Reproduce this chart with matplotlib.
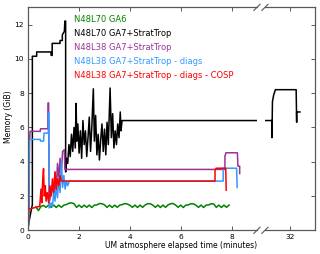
import numpy as np
import matplotlib
matplotlib.use("Agg")
import matplotlib.pyplot as plt

# memory use (GiB) against elapsed time (minutes)
labels = ["N48L70 GA6", "N48L70 GA7+StratTrop", "N48L38 GA7+StratTrop",
          "N48L38 GA7+StratTrop - diags", "N48L38 GA7+StratTrop - diags - COSP"]
colours = ["#008000", "black", "#993399", "#3399ff", "red"]

green_t = np.round(np.arange(3, 80) * 0.1, 1)
green_mem = [1.36, 1.15, 1.40, 1.45, 1.34, 1.47, 1.34, 1.47, 1.33, 1.47,
             1.34, 1.47, 1.50, 1.58, 1.60, 1.55, 1.34, 1.47, 1.33, 1.47,
             1.34, 1.47, 1.33, 1.47, 1.48, 1.56, 1.55, 1.48, 1.34, 1.47,
             1.33, 1.47, 1.34, 1.47, 1.50, 1.56, 1.53, 1.46, 1.34, 1.47,
             1.33, 1.47, 1.34, 1.48, 1.55, 1.55, 1.47, 1.34, 1.47, 1.33,
             1.47, 1.34, 1.48, 1.55, 1.56, 1.47, 1.34, 1.47, 1.33, 1.47,
             1.48, 1.55, 1.54, 1.46, 1.34, 1.47, 1.33, 1.47, 1.48, 1.55,
             1.53, 1.34, 1.47, 1.33, 1.47, 1.34, 1.47]

black_t = [0.0, 0.16, 0.16, 0.33, 0.33, 0.89, 0.90, 0.94, 0.94, 1.25, 1.25, 1.34, 1.34,
           1.42, 1.44, 1.47, 1.47, 1.50, 1.55, 1.60, 1.65, 1.70, 1.75, 1.80, 1.85,
           1.88, 1.91, 1.95, 2.00, 2.05, 2.10, 2.15, 2.20, 2.25, 2.30, 2.35, 2.40,
           2.45, 2.50, 2.56, 2.60, 2.65, 2.70, 2.75, 2.80, 2.85, 2.90, 2.95, 3.00,
           3.05, 3.10, 3.15, 3.22, 3.27, 3.32, 3.37, 3.42, 3.47, 3.52, 3.57, 3.62,
           3.65, 3.69, 31.28, 31.28, 31.30, 31.35, 31.42, 32.25, 32.27, 32.27, 32.40]
black_mem = [0.3, 1.5, 10.15, 10.15, 10.4, 10.4, 10.2, 10.2, 10.9, 10.9, 11.07, 11.07, 11.4,
             11.6, 12.2, 12.2, 3.4, 4.2, 3.9, 5.0, 4.3, 5.6, 4.6, 6.0, 4.8,
             7.4, 5.2, 6.2, 4.5, 5.8, 4.2, 6.4, 5.0, 5.8, 4.3, 5.4, 6.6,
             4.6, 6.0, 8.25, 5.2, 6.7, 4.4, 5.6, 4.1, 5.3, 6.2, 4.6, 5.9,
             4.4, 6.3, 5.0, 8.3, 5.4, 6.8, 4.8, 5.8, 5.0, 6.2, 5.4, 6.9,
             5.8, 6.4, 6.4, 5.4, 7.5, 7.9, 8.2, 8.2, 6.3, 6.9, 6.9]

purple_t = [0.03, 0.05, 0.07, 0.47, 0.48, 0.77, 0.78, 0.80, 0.82, 0.85, 0.95, 1.00,
            1.05, 1.10, 1.15, 1.20, 1.25, 1.30, 1.35, 1.42, 1.44, 7.74, 7.74, 7.78,
            8.23, 8.25, 8.32, 8.32]
purple_mem = [1.2, 5.2, 5.77, 5.77, 5.92, 5.92, 7.43, 7.43, 1.6, 1.8, 2.6, 2.0,
              3.4, 2.4, 3.9, 3.0, 4.2, 3.3, 4.6, 4.7, 3.55, 3.55, 4.33, 4.52,
              4.52, 3.74, 3.74, 3.31]

blue_t = [0.02, 0.04, 0.47, 0.48, 0.60, 0.62, 0.79, 0.79, 0.81, 0.82, 0.90, 0.95,
          1.00, 1.05, 1.10, 1.15, 1.20, 1.25, 1.30, 1.35, 1.40, 1.45, 1.50, 1.55,
          1.62, 1.65, 7.67, 7.67, 8.20, 8.22]
blue_mem = [0.3, 5.3, 5.3, 5.2, 5.2, 5.67, 5.67, 6.84, 6.84, 1.3, 1.6, 1.4,
            2.2, 1.7, 2.6, 1.9, 3.1, 2.2, 4.0, 2.5, 3.2, 2.4, 2.9, 2.6,
            2.9, 2.87, 2.87, 3.62, 3.62, 2.5]

red_t = [0.0, 0.02, 0.20, 0.45, 0.50, 0.53, 0.57, 0.60, 0.63, 0.67, 0.70, 0.75,
         0.80, 0.85, 0.90, 0.95, 1.00, 1.05, 1.10, 1.15, 1.20, 1.25, 1.30, 7.35,
         7.35, 7.40, 7.77, 7.79]
red_mem = [0.0, 1.25, 1.3, 1.4, 2.4, 1.6, 3.0, 3.6, 2.0, 2.6, 1.7, 2.2,
           1.6, 2.6, 2.0, 3.0, 2.2, 3.4, 2.4, 3.0, 2.6, 3.2, 2.87, 2.87,
           3.52, 3.62, 3.62, 2.34]

series = [(green_t, green_mem), (black_t, black_mem), (purple_t, purple_mem),
          (blue_t, blue_mem), (red_t, red_mem)]

fig = plt.figure(figsize=(3.2, 2.54), dpi=100)
ax1 = fig.add_axes([0.0884, 0.0933, 0.803 - 0.0884, 0.971 - 0.0933])
ax2 = fig.add_axes([0.828, 0.0933, 0.984 - 0.828, 0.971 - 0.0933])

for ax in (ax1, ax2):
    for (t, m), c in zip(series, colours):
        ax.plot(t, m, color=c, lw=1.1)
    ax.set_ylim(0, 13)
    ax.tick_params(direction="in", length=3, width=0.6, labelsize=5.4, pad=3,
                   colors="0.25", labelcolor="black", top=True)
    for s in ax.spines.values():
        s.set_color("0.35")
        s.set_linewidth(0.9)

ax1.set_xlim(0, 9)
ax1.set_xticks([0, 2, 4, 6, 8])
ax1.set_yticks([0, 2, 4, 6, 8, 10, 12])
ax1.spines["right"].set_visible(False)
ax1.tick_params(right=False)

ax2.set_xlim(31, 33)
ax2.set_xticks([32])
ax2.set_yticks([0, 2, 4, 6, 8, 10, 12])
ax2.spines["left"].set_visible(False)
ax2.tick_params(left=False, labelleft=False, right=True)

# legend as coloured text
for i, (lab, c) in enumerate(zip(labels, colours)):
    ax1.text(0.2, 0.946 - i * 0.0625, lab, color=c, fontsize=6.0,
             transform=ax1.transAxes, va="center", ha="left")

# break marks
d = 0.012
for x in (0.803, 0.828):
    for y in (0.0933, 0.971):
        fig.add_artist(plt.Line2D([x - d * 0.8, x + d * 0.8], [y - d, y + d],
                                  color="0.35", lw=0.8, clip_on=False))

fig.text(0.566, 0.034, "UM atmosphere elapsed time (minutes)", fontsize=5.5,
         ha="center", va="center")
fig.text(0.026, 0.54, "Memory (GiB)", fontsize=5.5, rotation=90,
         ha="center", va="center")

fig.savefig("out.png", dpi=100)
